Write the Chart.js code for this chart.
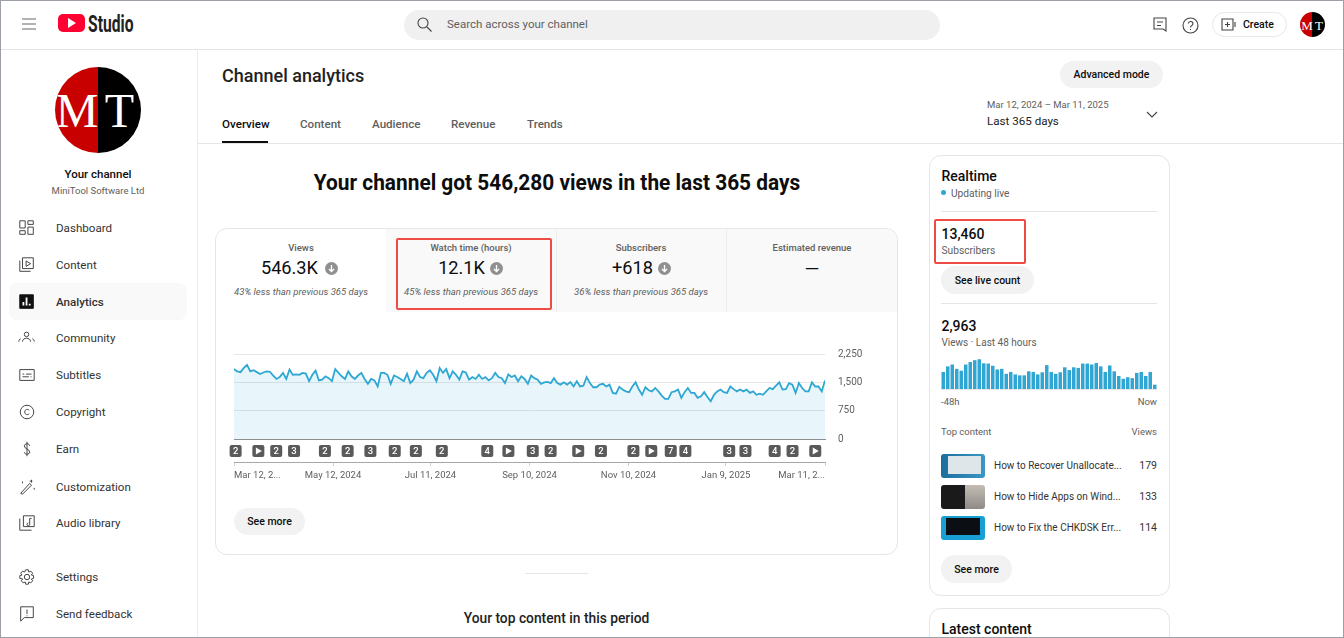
<!DOCTYPE html>
<html>
<head>
<meta charset="utf-8">
<title>Channel analytics</title>
<script src="https://cdn.jsdelivr.net/npm/chart.js@4"></script>
<style>
  html, body { margin: 0; padding: 0; background: #fff; }
  body { width: 1344px; height: 638px; overflow: hidden; position: relative; font-family: Roboto, sans-serif; color: #0d0d0d; }
  .t { position: absolute; white-space: nowrap; line-height: 1; transform: translateY(-50%); }
  .c { transform: translate(-50%, -50%); }
  .r { transform: translate(-100%, -50%); }
  .g { color: #606060; }
  .m { font-weight: 500; }
  .box { position: absolute; box-sizing: border-box; }
  .pill { position: absolute; background: #f2f2f2; border-radius: 14px; display: flex; align-items: center; justify-content: center; font-size: 10.5px; font-weight: 500; }
  .hr { position: absolute; height: 1px; background: #e5e5e5; }
  .red { position: absolute; box-sizing: border-box; border: 2px solid #ee4b45; border-radius: 2px; }
  .down { position: absolute; width: 13px; height: 13px; border-radius: 50%; background: #909090; }
  .down svg { display: block; }
  .thumb { position: absolute; left: 941px; width: 44px; height: 24px; border-radius: 3px; }
  .avatar { position: absolute; border-radius: 50%; overflow: hidden; background: linear-gradient(90deg, #c80000 50%, #000 50%); color: #fff; font-family: "Liberation Serif", serif; }
  .avatar span { position: absolute; top: 51%; transform: translate(-50%, -50%); line-height: 1; }
  svg.i { position: absolute; fill: none; stroke: #444; stroke-width: 1.1; }
  canvas { position: absolute; }
</style>
</head>
<body>
<!-- top bar -->
<div class="hr" style="left:0;top:49px;width:1344px;background:#e3e3e3"></div>
<svg class="i" style="left:20px;top:16px;stroke:#666" width="18" height="16" viewBox="0 0 18 16"><path d="M2 3h14M2 8h14M2 13h14"/></svg>
<div class="box" style="left:58px;top:14px;width:27px;height:18px;background:#ff0033;border-radius:5px"></div>
<svg style="position:absolute;left:67px;top:18px" width="10" height="10"><path d="M1 0L9 5L1 10Z" fill="#fff"/></svg>
<div class="t" style="left:88px;top:24px;font-size:23px;font-weight:700;transform:translateY(-50%) scaleX(.68);transform-origin:left center;color:#222">Studio</div>
<div class="box" style="left:404px;top:10px;width:536px;height:30px;background:#f0f0f0;border-radius:15px"></div>
<svg class="i" style="left:416px;top:16px" width="17" height="17" viewBox="0 0 17 17"><circle cx="7" cy="7" r="5"/><path d="M11 11L15.500 15.500"/></svg>
<div class="t g" style="left:447px;top:25px;font-size:11.500px">Search across your channel</div>
<svg class="i" style="left:1153px;top:17px" width="15" height="17" viewBox="0 0 15 17"><path d="M1 1h12v13l-3-2H1zM4 5h6M4 8.500h4"/></svg>
<svg class="i" style="left:1182px;top:17px" width="17" height="17" viewBox="0 0 17 17"><circle cx="8.500" cy="8.500" r="7.500"/><path d="M6.200 6.500c.3-2.800 4.800-2.600 4.700.2 0 1.800-2.400 2-2.400 3.700M8.500 12v1"/></svg>
<div class="box" style="left:1212px;top:12px;width:75px;height:25px;border:1px solid #e8e8e8;border-radius:13px"></div>
<svg class="i" style="left:1221px;top:18px" width="17" height="13" viewBox="0 0 17 13"><path d="M1 1h11v11H1zM6.500 4v5M4 6.500h5M14 4v5"/></svg>
<div class="t m" style="left:1243px;top:25px;font-size:10.500px">Create</div>
<div class="avatar" style="left:1300px;top:12px;width:25px;height:25px;font-size:13px"><span style="left:7px">M</span><span style="left:19px">T</span></div>

<!-- sidebar -->
<div class="box" style="left:197px;top:50px;width:1px;height:588px;background:#ececec"></div>
<div class="avatar" style="left:55px;top:67px;width:86px;height:86px;font-size:48px"><span style="left:22px">M</span><span style="left:64.500px">T</span></div>
<div class="t c m" style="left:98px;top:175px;font-size:11.500px">Your channel</div>
<div class="t c g" style="left:98px;top:191px;font-size:9.500px">MiniTool Software Ltd</div>
<div class="box" style="left:9px;top:283px;width:178px;height:37px;background:#f9f9f9;border-radius:8px"></div>
<div id="nav"></div>

<!-- page header -->
<div class="t m" style="left:222px;top:76px;font-size:18px;color:#222">Channel analytics</div>
<div class="pill" style="left:1060px;top:61px;width:103px;height:27px">Advanced mode</div>
<div class="t g" style="left:987px;top:105px;font-size:9.500px">Mar 12, 2024 – Mar 11, 2025</div>
<div class="t" style="left:987px;top:122px;font-size:11.600px;color:#222">Last 365 days</div>
<svg class="i" style="left:1146px;top:111px" width="12" height="8" viewBox="0 0 12 8"><path d="M1 1l5 5 5-5"/></svg>
<div id="tabs"></div>
<div class="box" style="left:222px;top:141px;width:46px;height:2px;background:#0d0d0d"></div>
<div class="hr" style="left:198px;top:143px;width:1146px"></div>

<div class="t" style="left:556.500px;top:182px;font-size:22.500px;font-weight:700;transform:translate(-50%,-50%) scaleX(.927)">Your channel got 546,280 views in the last 365 days</div>

<!-- main card -->
<div class="box" style="left:215px;top:228px;width:683px;height:327px;border:1px solid #e5e5e5;border-radius:12px"></div>
<div class="box" style="left:386px;top:229px;width:511px;height:83px;background:#f9f9f9;border-radius:0 12px 0 0"></div>
<div class="box" style="left:556px;top:229px;width:1px;height:83px;background:#ececec"></div>
<div class="box" style="left:726px;top:229px;width:1px;height:83px;background:#ececec"></div>
<div id="cards"></div>
<div class="red" style="left:396px;top:238px;width:156px;height:72px"></div>
<canvas id="watch" width="680" height="150" style="left:200px;top:340px;width:680px;height:150px"></canvas>
<div class="pill" style="left:234px;top:508px;width:71px;height:27px">See more</div>

<div class="hr" style="left:525px;top:573px;width:63px"></div>
<div class="t c m" style="left:556.500px;top:618.500px;font-size:13.800px;color:#222">Your top content in this period</div>

<!-- realtime card -->
<div class="box" style="left:929px;top:155px;width:241px;height:441px;border:1px solid #e5e5e5;border-radius:12px"></div>
<div class="t m" style="left:941.500px;top:176px;font-size:14px">Realtime</div>
<div class="box" style="left:941px;top:190px;width:5px;height:5px;border-radius:50%;background:#2ea8d3"></div>
<div class="t g" style="left:951px;top:194px;font-size:10.200px">Updating live</div>
<div class="hr" style="left:941px;top:211px;width:216px"></div>
<div class="t m" style="left:941.500px;top:234px;font-size:14px">13,460</div>
<div class="t g" style="left:941.500px;top:251px;font-size:10.200px">Subscribers</div>
<div class="red" style="left:934px;top:219px;width:92px;height:45px"></div>
<div class="pill" style="left:941px;top:266px;width:93px;height:28px">See live count</div>
<div class="hr" style="left:941px;top:303px;width:216px"></div>
<div class="t m" style="left:941.500px;top:326px;font-size:14px">2,963</div>
<div class="t g" style="left:941.500px;top:343px;font-size:10px">Views · Last 48 hours</div>
<canvas id="hourly" width="216" height="33" style="left:941px;top:358px;width:216px;height:33px"></canvas>
<div class="t g" style="left:941px;top:402px;font-size:9.500px">-48h</div>
<div class="t r g" style="left:1157px;top:402px;font-size:9.500px">Now</div>
<div class="t g" style="left:941px;top:432px;font-size:9.500px">Top content</div>
<div class="t r g" style="left:1157px;top:432px;font-size:9.500px">Views</div>
<div class="thumb" style="top:454px;background:linear-gradient(#dfe6ea,#dfe6ea) 7px 2px/33px 18px no-repeat,linear-gradient(90deg,#1b6e9e,#3a97c4)"></div>
<div class="thumb" style="top:485px;background:linear-gradient(#c4bcb4,#8e8a86) right/20px 24px no-repeat,#1a1a1a"></div>
<div class="thumb" style="top:516px;background:linear-gradient(#0b0f14,#0b0f14) 5px 2px/34px 17px no-repeat,#18a0d4"></div>
<div id="top"></div>
<div class="pill" style="left:941px;top:555px;width:71px;height:28px">See more</div>

<div class="box" style="left:929px;top:608px;width:241px;height:60px;border:1px solid #e5e5e5;border-radius:12px"></div>
<div class="t m" style="left:941.500px;top:629px;font-size:14px">Latest content</div>

<div class="box" style="left:0;top:0;width:1344px;height:638px;border:1px solid #9aa0a6;border-left-width:1.500px;pointer-events:none"></div>

<script>
const watchHours = [
  1850,1790,1770,1880,1960,1790,1820,1770,1720,1760,1790,1780,1680,1590,1640,1750,1590,1840,1700,1710,
  1700,1750,1730,1530,1700,1810,1550,1570,1660,1610,1530,1850,1750,1660,1590,1790,1660,1590,1680,1750,
  1590,1460,1590,1550,1390,1750,1750,1700,1460,1680,1640,1590,1530,1730,1480,1570,1790,1640,1610,1750,
  1820,1700,1530,1880,1750,1850,1610,1790,1700,1570,1790,1760,1570,1640,1590,1700,1590,1640,1550,1610,
  1750,1640,1610,1480,1710,1640,1680,1530,1660,1590,1460,1680,1610,1570,1460,1500,1510,
  1480,1610,1480,1440,1500,1440,1510,1390,1530,1390,1410,1640,1480,1370,1370,1440,1460,1390,1440,
  1220,1200,1380,1310,1260,1240,1390,1500,1310,1170,1370,1290,1260,1350,1260,1150,1060,1060,1240,1260,
  1310,1090,1240,1350,1220,1220,1090,1130,1240,1110,1000,1170,1260,1310,1240,1220,1390,1320,1260,1310,
  1260,1310,1220,1260,1170,1200,1170,1260,1350,1320,1410,1500,1310,1320,1480,1440,1220,1480,1350,1260,
  1260,1500,1390,1390,1260,1550
];
const watchTickDays = [0, 61, 121, 182, 243, 303, 364];
const watchTickLabels = ['Mar 12, 2...', 'May 12, 2024', 'Jul 11, 2024', 'Sep 10, 2024', 'Nov 10, 2024', 'Jan 9, 2025', 'Mar 11, 2...'];
const watchYTicks = [0, 750, 1500, 2250];
// Upload markers under the line, '>' is a single video
const markerDays = [1, 15, 26, 37, 56, 70, 84, 99, 112, 128, 156, 169, 184, 195, 212, 226, 246, 257, 269, 278, 305, 315, 333, 344, 358];
const markerLabels = ['2', '>', '2', '3', '2', '2', '3', '2', '2', '2', '4', '>', '3', '2', '>', '2', '2', '>', '7', '4', '3', '3', '4', '2', '>'];
const hourlyViews = [
  55,73,79,65,59,79,87,93,96,83,82,75,63,65,49,55,47,44,44,57,55,47,54,77,
  55,49,54,70,61,70,68,82,82,79,84,73,55,76,57,42,33,38,35,52,55,42,55,14
];

const navLabels = ['Dashboard', 'Content', 'Analytics', 'Community', 'Subtitles', 'Copyright', 'Earn', 'Customization', 'Audio library', 'Settings', 'Send feedback'];
const navY = [229, 266, 303, 339, 376, 413, 450, 488, 524, 578, 615];
const navIcons = [
  '<path d="M2 2h6v8H2zM11 2h6v4h-6zM2 13h6v4H2zM11 9h6v8h-6z"/>',
  '<path d="M5 2h12v12H5zM2 5v12h12M9 5.500l5 3-5 3z"/>',
  '<path d="M2 2h15v15H2z" fill="#111" stroke="#111"/><path d="M6 14v-4M9.500 14V5M13 14v-2" stroke="#fff" stroke-width="2"/>',
  '<circle cx="9.500" cy="6" r="2.500"/><path d="M5 14c0-5 9-5 9 0M3 9.500v.1M16 9.500v.1M1 14c0-2 1-3 2-3M18 14c0-2-1-3-2-3"/>',
  '<path d="M2 4h16v12H2zM5 9h2M9 9h6M5 12h7M14 12h1"/>',
  '<circle cx="10" cy="10" r="7.500"/><path d="M12.500 8.200c-1.500-2-5-1.200-5 1.800s3.500 3.800 5 1.800"/>',
  '<path d="M13 6.500c0-3-6-3-6 0 0 4 6 3 6 7 0 3-6 3-6 0M10 2v16"/>',
  '<path d="M3 17L13 6l2 2L5 18zM15 2v3M13 3.500h3M5 4v2M18 11v2"/>',
  '<path d="M6 2h12v12H6zM2 5v13h13M13 5v6.500a1.500 1.500 0 1 1-1.500-1.500M13 5h2"/>',
  '<circle cx="10" cy="10" r="3"/><path d="M8.500 2h3l.5 2.500 2.300-1 2 2.300-1.500 2 2.500.7v3l-2.500.7 1.500 2-2 2.300-2.300-1-.5 2.500h-3l-.5-2.500-2.300 1-2-2.300 1.500-2L2 11.500v-3l2.500-.7-1.500-2 2-2.300 2.300 1z"/>',
  '<path d="M3 2h14v12H7l-4 4zM10 5v5M10 11.500v1"/>'
];
const tabLabels = ['Overview', 'Content', 'Audience', 'Revenue', 'Trends'];
const tabX = [222, 300, 372, 451, 527];
const cardTitles = ['Views', 'Watch time (hours)', 'Subscribers', 'Estimated revenue'];
const cardValues = ['546.3K', '12.1K', '+618', '—'];
const cardNotes = ['43% less than previous 365 days', '45% less than previous 365 days', '36% less than previous 365 days', ''];
const cardCenters = [301, 471, 641, 812];
const cardValueRight = [318, 485, 653];
const cardIconLeft = [325, 490, 658];
const topTitles = ['How to Recover Unallocate...', 'How to Hide Apps on Wind...', 'How to Fix the CHKDSK Err...'];
const topViews = ['179', '133', '114'];
const topY = [466, 497, 528];

function addHtml(id, html) {
  document.getElementById(id).insertAdjacentHTML('beforeend', html);
}

navLabels.forEach((label, i) => {
  const weight = label === 'Analytics' ? ' m' : '';
  addHtml('nav', `<svg class="i" style="left:18px;top:${navY[i] - 10}px" width="18" height="18" viewBox="0 0 20 20">${navIcons[i]}</svg>`);
  addHtml('nav', `<div class="t${weight}" style="left:56px;top:${navY[i]}px;font-size:11.600px;color:#333">${label}</div>`);
});
tabLabels.forEach((label, i) => {
  const cls = i === 0 ? 'm' : 'g m';
  addHtml('tabs', `<div class="t ${cls}" style="left:${tabX[i]}px;top:125px;font-size:11.600px">${label}</div>`);
});
cardTitles.forEach((title, i) => {
  const cx = cardCenters[i];
  addHtml('cards', `<div class="t c g m" style="left:${cx}px;top:248px;font-size:9.500px">${title}</div>`);
  if (i < 3) {
    addHtml('cards', `<div class="t r" style="left:${cardValueRight[i]}px;top:268px;font-size:18.200px">${cardValues[i]}</div>`);
    addHtml('cards', `<div class="down" style="left:${cardIconLeft[i]}px;top:262px"><svg width="13" height="13"><path d="M6.500 3v6M4 7l2.500 2.500L9 7" fill="none" stroke="#fff" stroke-width="1.300"/></svg></div>`);
    addHtml('cards', `<div class="t c g" style="left:${cx}px;top:292px;font-size:9.550px;font-style:italic">${cardNotes[i]}</div>`);
  } else {
    addHtml('cards', `<div class="t c" style="left:${cx}px;top:268px;font-size:19px">${cardValues[i]}</div>`);
  }
});
topTitles.forEach((title, i) => {
  addHtml('top', `<div class="t" style="left:994px;top:${topY[i]}px;font-size:10px;color:#333">${title}</div>`);
  addHtml('top', `<div class="t r" style="left:1157px;top:${topY[i]}px;font-size:10.500px;color:#333">${topViews[i]}</div>`);
});

// rounded number boxes along the marker row, and the two end labels pulled inside the plot
const watchExtras = {
  id: 'watchExtras',
  beforeDraw(chart) {
    const items = chart.scales.x2.getLabelItems();
    items[0].options.textAlign = 'left';
    items[items.length - 1].options.textAlign = 'right';
  },
  afterDraw(chart) {
    const ctx = chart.ctx;
    const scale = chart.scales.x;
    const y = chart.chartArea.bottom + 12;
    ctx.save();
    markerDays.forEach((day, i) => {
      const x = scale.getPixelForValue(day);
      ctx.fillStyle = '#5a5a5a';
      ctx.beginPath();
      ctx.roundRect(x - 6, y - 6, 12, 12, 2);
      ctx.fill();
      ctx.fillStyle = '#fff';
      if (markerLabels[i] === '>') {
        ctx.beginPath();
        ctx.moveTo(x - 2.5, y - 3.5);
        ctx.lineTo(x + 3.5, y);
        ctx.lineTo(x - 2.5, y + 3.5);
        ctx.fill();
      } else {
        ctx.font = '500 9.5px Roboto';
        ctx.textAlign = 'center';
        ctx.textBaseline = 'middle';
        ctx.fillText(markerLabels[i], x, y + 0.5);
      }
    });
    ctx.restore();
  }
};

new Chart(document.getElementById('watch'), {
  type: 'line',
  data: {
    datasets: [{
      data: watchHours.map((v, i) => ({ x: i * 364 / (watchHours.length - 1), y: v })),
      borderColor: '#2ea8d3',
      borderWidth: 1.8,
      backgroundColor: 'rgba(46,168,211,0.11)',
      fill: 'origin',
      pointRadius: 0,
      tension: 0
    }]
  },
  plugins: [watchExtras],
  options: {
    responsive: false,
    animation: false,
    layout: { padding: { left: 34, top: 14 } },
    plugins: { legend: { display: false }, tooltip: { enabled: false } },
    scales: {
      x: {
        type: 'linear',
        min: 0,
        max: 364,
        grid: { drawOnChartArea: false, drawTicks: false },
        border: { color: '#8e8e8e', width: 1 },
        ticks: { display: false },
        afterFit(scale) { scale.height = 23; }
      },
      x2: {
        type: 'linear',
        position: 'bottom',
        weight: 1,
        min: 0,
        max: 364,
        afterBuildTicks(scale) { scale.ticks = watchTickDays.map(v => ({ value: v })); },
        grid: { drawOnChartArea: false, tickLength: 4, color: '#d0d0d0' },
        border: { color: '#a8a8a8', width: 1 },
        ticks: {
          autoSkip: false,
          maxRotation: 0,
          padding: 4,
          color: '#606060',
          font: { family: 'Roboto', size: 9.5 },
          callback(value) { return watchTickLabels[watchTickDays.indexOf(value)]; }
        },
        afterFit(scale) { scale.height = 28; }
      },
      y: {
        position: 'right',
        min: 0,
        max: 2250,
        afterBuildTicks(scale) { scale.ticks = watchYTicks.map(v => ({ value: v })); },
        grid: { color: '#e6e6e6', drawTicks: false },
        border: { display: false },
        ticks: {
          padding: 13,
          color: '#606060',
          font: { family: 'Roboto', size: 10 },
          callback(value) { return value.toLocaleString('en-US'); }
        },
        // tick padding would otherwise push the top of the plot down
        afterFit(scale) { scale.width = 55; scale.paddingTop = 0; scale.paddingBottom = 0; }
      }
    }
  }
});

new Chart(document.getElementById('hourly'), {
  type: 'bar',
  data: {
    labels: hourlyViews.map((v, i) => i),
    datasets: [{
      data: hourlyViews,
      backgroundColor: '#30a6d2',
      barPercentage: 0.78,
      categoryPercentage: 1
    }]
  },
  options: {
    responsive: false,
    animation: false,
    layout: { padding: 0 },
    plugins: { legend: { display: false }, tooltip: { enabled: false } },
    scales: {
      x: {
        grid: { display: false },
        border: { color: '#e5e5e5' },
        ticks: { display: false },
        afterFit(scale) { scale.height = 2; }
      },
      y: { display: false, min: 0, max: 100 }
    }
  }
});
</script>
</body>
</html>
